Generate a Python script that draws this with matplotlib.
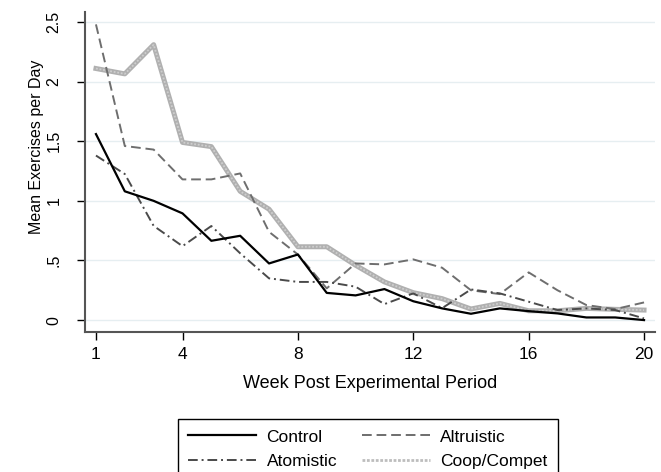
import matplotlib
matplotlib.use("Agg")
import matplotlib.pyplot as plt
from matplotlib.lines import Line2D

plt.rcParams['font.family'] = ['Liberation Sans', 'DejaVu Sans']

weeks = list(range(1, 21))

control = [1.56, 1.08, 1.00, 0.895, 0.665, 0.707, 0.475, 0.55, 0.228, 0.207,
           0.26, 0.158, 0.098, 0.053, 0.098, 0.075, 0.056, 0.022, 0.022, 0.0]
altruistic = [2.48, 1.46, 1.43, 1.18, 1.18, 1.23, 0.74, 0.55, 0.266, 0.475,
              0.467, 0.509, 0.439, 0.25, 0.218, 0.40, 0.25, 0.126, 0.092, 0.148]
atomistic = [1.38, 1.225, 0.79, 0.62, 0.789, 0.56, 0.35, 0.32, 0.32, 0.28,
             0.134, 0.224, 0.10, 0.257, 0.224, 0.154, 0.084, 0.098, 0.084, 0.014]
coop_compet = [2.11, 2.065, 2.31, 1.49, 1.455, 1.08, 0.93, 0.615, 0.615, 0.46,
               0.32, 0.23, 0.18, 0.093, 0.14, 0.078, 0.078, 0.098, 0.09, 0.084]

xticks = [1, 4, 8, 12, 16, 20]
yticks = [0, 0.5, 1, 1.5, 2, 2.5]
ytick_labels = ['0', '.5', '1', '1.5', '2', '2.5']

W, H = 661, 472
fig = plt.figure(figsize=(W / 100, H / 100), dpi=100)
ax = fig.add_axes([85 / W, (H - 332) / H, 570 / W, 320 / H])

for y in yticks:
    ax.axhline(y, color='#e6eef1', lw=1.0, zorder=0)

l_ctrl, = ax.plot(weeks, control, color='black', lw=1.6, zorder=4)
l_alt, = ax.plot(weeks, altruistic, color='#6e6e6e', lw=1.4, dashes=(5, 2.5),
                 zorder=3)
l_atom, = ax.plot(weeks, atomistic, color='#4a4a4a', lw=1.4, dashes=(5, 2, 1, 2),
                  zorder=3)
# thick grey band with a lighter dotted line on top
ax.plot(weeks, coop_compet, color='#b0b0b0', lw=3.6, solid_joinstyle='round',
        zorder=2)
ax.plot(weeks, coop_compet, color='#cecece', lw=1.3, linestyle=(0, (1, 1)),
        zorder=2)
l_coop = Line2D([], [], color='#bdbdbd', lw=2.0, linestyle=(0, (1, 0.6)))

ax.set_xlim(0.62, 20.38)
ax.set_ylim(-0.1, 2.584)

ax.set_xticks(xticks)
ax.set_yticks(yticks)
ax.set_yticklabels(ytick_labels, rotation=90, va='center')
ax.tick_params(axis='x', length=6, width=1, color='black', pad=5, labelsize=12.5)
ax.tick_params(axis='y', length=6, width=1, color='black', pad=11, labelsize=11.5)

for s in ['top', 'right']:
    ax.spines[s].set_visible(False)
for s in ['left', 'bottom']:
    ax.spines[s].set_color('#555555')
    ax.spines[s].set_linewidth(1.5)

ax.set_xlabel('Week Post Experimental Period', fontsize=13)
ax.xaxis.set_label_coords(0.5, -0.134)
ax.set_ylabel('Mean Exercises per Day', fontsize=11.5)
ax.yaxis.set_label_coords(-0.072, 0.578)

leg = fig.legend([l_ctrl, l_atom, l_alt, l_coop],
                 ['Control', 'Atomistic', 'Altruistic', 'Coop/Compet'],
                 ncol=2, loc='upper left', bbox_to_anchor=(178 / W, 1 - 419 / H),
                 borderaxespad=0, fontsize=12.5, handlelength=3.9,
                 handletextpad=0.6, columnspacing=1.45, labelspacing=0.55,
                 borderpad=0.6, fancybox=False, edgecolor='black', framealpha=1)
leg.get_frame().set_linewidth(1.0)

fig.savefig('out.png', dpi=100)
